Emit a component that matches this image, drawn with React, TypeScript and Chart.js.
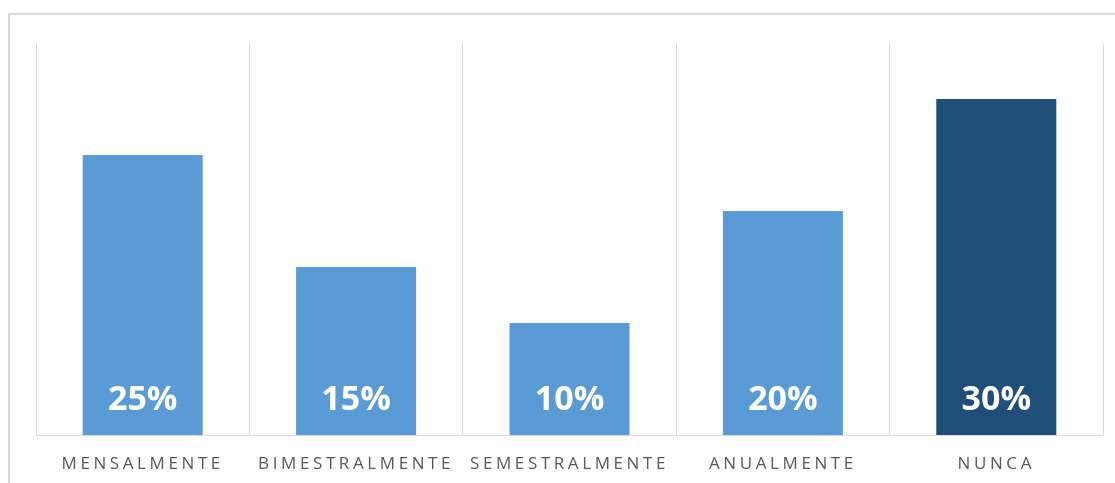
import React, { useEffect, useRef } from "react";
import { Chart, registerables } from "chart.js";

Chart.register(...registerables);

const categories = ["MENSALMENTE", "BIMESTRALMENTE", "SEMESTRALMENTE", "ANUALMENTE", "NUNCA"];
const percentages = [25, 15, 10, 20, 30];
const barColors = ["#5B9BD5", "#5B9BD5", "#5B9BD5", "#5B9BD5", "#1F4E79"];
const yMax = 35;

// Spaced-out category labels on the x axis; reset before the bars are drawn.
const letterSpacingPlugin = {
  id: "letterSpacing",
  beforeDraw(chart: any) {
    (chart.ctx as any).letterSpacing = "3.6px";
  },
  beforeDatasetsDraw(chart: any) {
    (chart.ctx as any).letterSpacing = "0px";
  },
};

// Percentage written inside each bar, near its base.
const barValuePlugin = {
  id: "barValues",
  afterDatasetsDraw(chart: any) {
    const ctx = chart.ctx;
    const meta = chart.getDatasetMeta(0);
    const yScale = chart.scales.y;
    const base = yScale.getPixelForValue(0);
    ctx.save();
    (ctx as any).letterSpacing = "0px";
    ctx.fillStyle = "#ffffff";
    ctx.font = "bold 34px 'Open Sans'";
    ctx.textAlign = "center";
    ctx.textBaseline = "middle";
    meta.data.forEach((bar: any, i: number) => {
      ctx.fillText(percentages[i] + "%", bar.x, base - 35);
    });
    ctx.restore();
  },
};

export default function App() {
  const canvasRef = useRef<HTMLCanvasElement | null>(null);

  useEffect(() => {
    if (!canvasRef.current) return;
    const chart = new Chart(canvasRef.current, {
      type: "bar",
      data: {
        labels: categories,
        datasets: [
          {
            data: percentages,
            backgroundColor: barColors,
            barPercentage: 0.5625,
            categoryPercentage: 1,
          },
        ],
      },
      options: {
        animation: false,
        responsive: false,
        maintainAspectRatio: false,
        layout: { padding: { left: 36, right: 12, top: 43, bottom: 0 } },
        plugins: {
          legend: { display: false },
          tooltip: { enabled: false },
        },
        scales: {
          x: {
            afterFit(scale: any) {
              scale.height = 48;
            },
            grid: {
              display: true,
              offset: true,
              color: "#d9d9d9",
              lineWidth: 1,
              drawTicks: false,
            },
            border: { display: true, color: "#d9d9d9", width: 1 },
            ticks: {
              color: "#595959",
              font: { family: "'Open Sans'", size: 17 },
              padding: 19,
              maxRotation: 0,
              autoSkip: false,
            },
          },
          y: {
            display: false,
            min: 0,
            max: yMax,
          },
        },
      },
      plugins: [letterSpacingPlugin, barValuePlugin],
    });
    return () => chart.destroy();
  }, []);

  return (
    <div style={{ position: "absolute", left: 0, top: 0, width: 1115, height: 483, overflow: "hidden", background: "#ffffff" }}>
      <div
        style={{
          position: "absolute",
          left: 8,
          top: 13,
          width: 1130,
          height: 500,
          border: "2px solid #d9d9d9",
          boxSizing: "border-box",
        }}
      />
      <canvas
        ref={canvasRef}
        width={1115}
        height={483}
        style={{ position: "absolute", left: 0, top: 0, width: 1115, height: 483 }}
      />
    </div>
  );
}
